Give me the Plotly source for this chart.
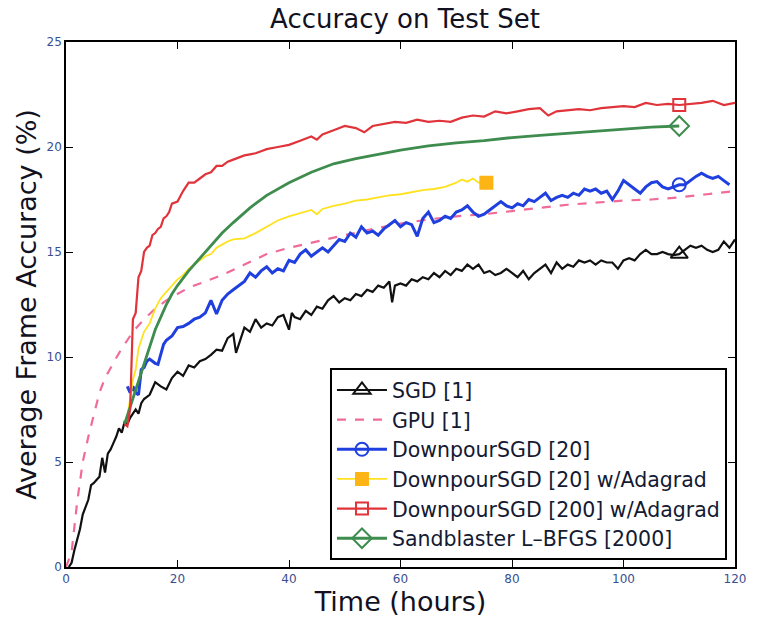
import plotly.graph_objects as go

# ---------------- data ----------------
sgd_x = [0.5, 1, 1.5, 2, 2.5, 3, 3.5, 4, 4.5, 5, 5.5, 6, 6.5, 7, 7.5, 8, 8.5, 9, 9.5, 10,
         10.5, 11, 11.5, 12, 12.5, 13, 13.5, 14, 15, 16, 17, 18, 19, 20, 21, 22, 23, 24, 25, 26,
         27, 28, 29, 30, 30.5, 31, 32, 33, 34, 35, 36, 37, 38, 39, 40, 40.5, 41, 42, 43, 44,
         45, 46, 47, 48, 49, 50, 51, 52, 53, 54, 55, 56, 57, 58, 58.5, 59, 60, 61, 62, 63,
         64, 65, 66, 67, 68, 69, 70, 71, 72, 73, 74, 75, 76, 77, 78, 79, 80, 81, 82, 83,
         84, 85, 86, 87, 88, 89, 90, 91, 92, 93, 94, 95, 96, 97, 98, 99, 100, 101, 102, 103,
         104, 105, 106, 107, 108, 109, 110, 111, 112, 113, 114, 115, 116, 117, 118, 119, 120]
sgd_y = [0.0, 0.2, 0.8, 1.3, 1.8, 2.5, 2.9, 3.2, 3.9, 4.0, 4.15, 4.3, 5.2, 4.5, 5.4, 5.6, 5.9, 6.2, 6.6, 6.4,
         6.9, 6.8, 7.1, 7.3, 7.5, 7.3, 7.8, 8.0, 8.2, 8.8, 8.6, 8.45, 9.0, 9.3, 9.1, 9.6, 9.5, 9.8, 9.9, 10.1,
         10.35, 10.3, 10.9, 11.1, 10.2, 10.6, 11.4, 11.2, 11.8, 11.4, 11.6, 11.5, 11.9, 12.0, 11.3, 12.1, 11.9, 11.8, 12.2, 12.0,
         12.4, 12.3, 12.7, 12.9, 12.6, 12.8, 12.7, 13.0, 12.9, 13.2, 13.1, 13.4, 13.3, 13.6, 12.6, 13.4, 13.5, 13.4, 13.7, 13.6,
         13.8, 13.7, 14.0, 13.8, 14.1, 13.9, 14.2, 14.1, 14.4, 14.2, 14.4, 14.0, 14.1, 13.9, 14.0, 14.2, 14.0, 13.8, 14.1, 13.7,
         14.0, 14.2, 14.4, 14.0, 14.5, 14.2, 14.4, 14.3, 14.6, 14.5, 14.6, 14.4, 14.6, 14.5, 14.5, 14.2, 14.6, 14.7, 14.6, 14.9,
         15.1, 14.9, 14.9, 15.0, 14.9, 14.85, 14.9, 15.1, 15.3, 15.2, 15.3, 15.1, 15.0, 15.1, 15.5, 15.2, 15.6]

gpu_x = [0, 1, 2, 3, 4, 5, 6, 7, 8, 9, 10, 11, 12, 14, 16, 18, 20, 22, 25, 28,
         32, 36, 40, 45, 50, 55, 60, 65, 70, 75, 80, 85, 90, 95, 100, 105, 110, 115, 120]
gpu_y = [0.0, 0.7, 3.1, 5.0, 6.2, 7.2, 8.3, 9.0, 9.5, 9.95, 10.4, 10.8, 11.2, 11.8, 12.3, 12.7, 13.0, 13.3, 13.6, 13.9,
         14.4, 14.9, 15.2, 15.5, 15.8, 16.1, 16.35, 16.55, 16.7, 16.8, 16.95, 17.1, 17.25, 17.35, 17.45, 17.5, 17.6, 17.75, 17.9]

d20_x = [11, 11.5, 12, 12.5, 13, 13.5, 14, 14.5, 15, 15.5, 16, 16.5, 17, 17.5, 18, 19, 20, 21, 22, 23,
         24, 25, 26, 26.5, 27, 28, 29, 30, 31, 32, 33, 34, 35, 36, 37, 38, 39, 40, 41, 42,
         43, 44, 45, 46, 47, 48, 49, 50, 51, 52, 53, 54, 55, 56, 57, 58, 59, 60, 61, 62,
         63, 64, 65, 66, 67, 68, 69, 70, 71, 72, 73, 74, 75, 76, 77, 78, 79, 80, 81, 82,
         83, 84, 85, 86, 87, 88, 89, 90, 91, 92, 93, 94, 95, 96, 97, 98, 99, 100, 101, 102,
         103, 104, 105, 106, 107, 108, 109, 110, 111, 112, 113, 114, 115, 116, 117, 118, 119]
d20_y = [8.6, 8.3, 8.6, 8.3, 8.2, 9.4, 9.5, 9.8, 9.9, 9.8, 9.7, 9.65, 10.2, 10.6, 10.8, 11.0, 11.4, 11.45, 11.6, 11.8,
         11.9, 12.1, 12.7, 12.4, 12.05, 12.7, 13.0, 13.2, 13.4, 13.6, 14.0, 13.8, 14.1, 14.3, 14.0, 14.2, 14.1, 14.6, 14.5, 14.9,
         15.1, 14.8, 15.0, 15.2, 15.0, 15.3, 15.6, 15.5, 15.9, 15.7, 16.2, 15.9, 16.0, 15.8, 16.1, 16.3, 16.5, 16.2, 16.4, 16.3,
         15.75, 16.6, 16.9, 16.4, 16.5, 16.7, 16.6, 16.9, 17.0, 17.2, 16.9, 16.7, 16.8, 17.0, 17.2, 17.4, 17.2, 17.1, 17.3, 17.2,
         17.5, 17.4, 17.6, 17.8, 17.45, 17.6, 17.7, 17.6, 17.8, 17.7, 18.0, 17.9, 18.0, 17.8, 17.9, 17.5, 17.9, 18.4, 18.2, 18.0,
         17.8, 18.1, 18.3, 18.35, 18.1, 18.0, 18.1, 18.2, 18.2, 18.4, 18.6, 18.75, 18.6, 18.5, 18.6, 18.4, 18.2]

d20a_x = [10.5, 11, 11.5, 12, 12.5, 13, 13.5, 14, 15, 16, 17, 18, 19, 20, 21, 22, 23, 24, 25, 26,
          27, 28, 29, 30, 32, 34, 36, 38, 40, 42, 44, 45, 46, 48, 50, 52, 54, 56, 58, 60,
          62, 64, 66, 68, 70, 71, 72, 73, 74, 75.4]
d20a_y = [6.9, 7.2, 8.0, 8.9, 9.4, 10.4, 10.8, 11.2, 11.6, 12.3, 12.8, 13.1, 13.4, 13.7, 13.9, 14.2, 14.4, 14.6, 14.8, 14.9,
          15.2, 15.35, 15.5, 15.6, 15.65, 15.9, 16.2, 16.5, 16.7, 16.85, 17.0, 16.8, 17.05, 17.2, 17.3, 17.45, 17.5, 17.6, 17.7, 17.75,
          17.85, 17.95, 18.0, 18.1, 18.3, 18.45, 18.35, 18.5, 18.3, 18.3]

d200_x = [10.5, 11, 11.5, 11.8, 12, 12.5, 13, 13.5, 14, 14.5, 15, 15.5, 16, 16.5, 17, 17.5, 18, 18.5, 19, 20,
          21, 22, 23, 24, 25, 26, 27, 28, 29, 30, 31, 32, 33, 34, 35, 36, 38, 40, 42, 44,
          45, 46, 48, 50, 52, 53.5, 55, 57, 59, 61, 63, 65, 67, 69, 71, 73, 75, 77, 79, 81,
          83, 85, 86.5, 88, 90, 92, 94, 96, 98, 100, 102, 104, 106, 108, 110, 112, 114, 116, 118, 120]
d200_y = [6.8, 6.7, 7.5, 10.5, 11.8, 12.1, 13.8, 14.1, 15.0, 15.2, 15.3, 15.8, 15.9, 16.1, 16.2, 16.6, 16.7, 16.9, 17.3, 17.4,
          17.9, 18.3, 18.3, 18.5, 18.7, 18.8, 19.1, 19.1, 19.3, 19.4, 19.5, 19.6, 19.65, 19.7, 19.8, 19.9, 20.0, 20.1, 20.3, 20.5,
          20.35, 20.6, 20.8, 21.0, 20.9, 20.7, 21.0, 21.1, 21.2, 21.15, 21.3, 21.2, 21.25, 21.2, 21.4, 21.5, 21.45, 21.7, 21.6, 21.7,
          21.8, 21.85, 21.5, 21.7, 21.75, 21.8, 21.75, 21.85, 21.9, 21.95, 21.9, 22.1, 22.0, 22.05, 22.0, 22.05, 22.1, 22.2, 22.0, 22.1]

lbfgs_x = [10.5, 11, 12, 13, 14, 15, 16, 17, 18, 19, 20, 22, 24, 26, 28, 30, 33, 36, 40, 44,
           48, 52, 56, 60, 65, 70, 75, 80, 85, 90, 95, 100, 105, 110]
lbfgs_y = [6.8, 7.2, 8.1, 8.9, 9.7, 10.5, 11.3, 11.9, 12.5, 13.0, 13.4, 14.1, 14.7, 15.3, 15.9, 16.4, 17.1, 17.7, 18.3, 18.8,
           19.2, 19.45, 19.65, 19.85, 20.05, 20.2, 20.3, 20.45, 20.55, 20.65, 20.75, 20.85, 20.95, 21.0]

# single marker positions (x, y)
marker_x = [110, 110, 75.4, 110, 110]
marker_y = [14.9, 18.2, 18.3, 22.0, 21.0]

names = ["SGD [1]", "GPU [1]", "DownpourSGD [20]", "DownpourSGD [20] w/Adagrad",
         "DownpourSGD [200] w/Adagrad", "Sandblaster L\u2013BFGS [2000]"]
x_ticks = [0, 20, 40, 60, 80, 100, 120]
y_ticks = [0, 5, 10, 15, 20, 25]

# ---------------- styles ----------------
FONT = "DejaVu Sans, Verdana, sans-serif"
series = [
    (sgd_x, sgd_y, "#111111", 2.2, "solid", "triangle-up-open", 15),
    (gpu_x, gpu_y, "#F06A9A", 2.2, "dash", None, 0),
    (d20_x, d20_y, "#1F3FDF", 3.0, "solid", "circle-open", 13),
    (d20a_x, d20a_y, "#FFE21F", 1.8, "solid", "square", 12),
    (d200_x, d200_y, "#E0333A", 2.2, "solid", "square-open", 12),
    (lbfgs_x, lbfgs_y, "#3E8C4E", 2.8, "solid", "diamond-open", 15),
]
marker_idx = {0: 0, 2: 1, 3: 2, 4: 3, 5: 4}
yellow_marker = "#FDB516"

fig = go.Figure()

order = [0, 1, 2, 3, 5, 4]
for i in order:
    xs, ys, col, w, dash, sym, ms = series[i]
    fig.add_trace(go.Scatter(x=xs, y=ys, mode="lines", showlegend=False,
                             line=dict(color=col, width=w, dash=dash)))
    if i in marker_idx:
        k = marker_idx[i]
        mcol = yellow_marker if i == 3 else col
        fig.add_trace(go.Scatter(x=[marker_x[k]], y=[marker_y[k]], mode="markers", showlegend=False,
                                 marker=dict(symbol=sym, size=ms, color=mcol,
                                             line=dict(color=mcol, width=2))))

for i, nm in enumerate(names):
    xs, ys, col, w, dash, sym, ms = series[i]
    if sym is None:
        fig.add_trace(go.Scatter(x=[None], y=[None], mode="lines", name=nm, legendgroup=f"g{i}",
                                 line=dict(color=col, width=w, dash=dash)))
    else:
        mcol = yellow_marker if i == 3 else col
        fig.add_trace(go.Scatter(x=[None], y=[None], mode="lines+markers", name=nm, legendgroup=f"g{i}",
                                 line=dict(color=col, width=w, dash=dash),
                                 marker=dict(symbol=sym, size=ms, color=mcol,
                                             line=dict(color=mcol, width=2))))

axis_common = dict(showline=True, linecolor="black", linewidth=1.5, mirror="ticks",
                   ticks="inside", ticklen=7, tickcolor="black", tickwidth=1.2,
                   showgrid=False, zeroline=False,
                   tickfont=dict(family=FONT, size=12, color="#3a4f8f"))

fig.update_layout(
    width=758, height=627,
    margin=dict(l=66, r=17, t=42, b=60),
    paper_bgcolor="white", plot_bgcolor="white",
    title=dict(text="Accuracy on Test Set", x=405 / 758, xanchor="center", y=1 - 19 / 627, yanchor="middle",
               font=dict(family=FONT, size=26, color="#111122")),
    xaxis=dict(range=[0, 120], tickvals=x_ticks, ticktext=[str(v) for v in x_ticks],
               title=dict(text="Time (hours)", standoff=4,
                          font=dict(family=FONT, size=27, color="#111122")),
               **axis_common),
    yaxis=dict(range=[0, 25], tickvals=y_ticks, ticktext=[str(v) for v in y_ticks],
               title=dict(text="Average Frame Accuracy (%)", standoff=2,
                          font=dict(family=FONT, size=27, color="#111122")),
               **axis_common),
    legend=dict(x=0.988, y=0.013, xanchor="right", yanchor="bottom",
                bgcolor="white", bordercolor="black", borderwidth=2,
                font=dict(family=FONT, size=20.5, color="#141a33"),
                traceorder="grouped", tracegroupgap=0, itemwidth=50),
)

fig.write_html("out.html")
